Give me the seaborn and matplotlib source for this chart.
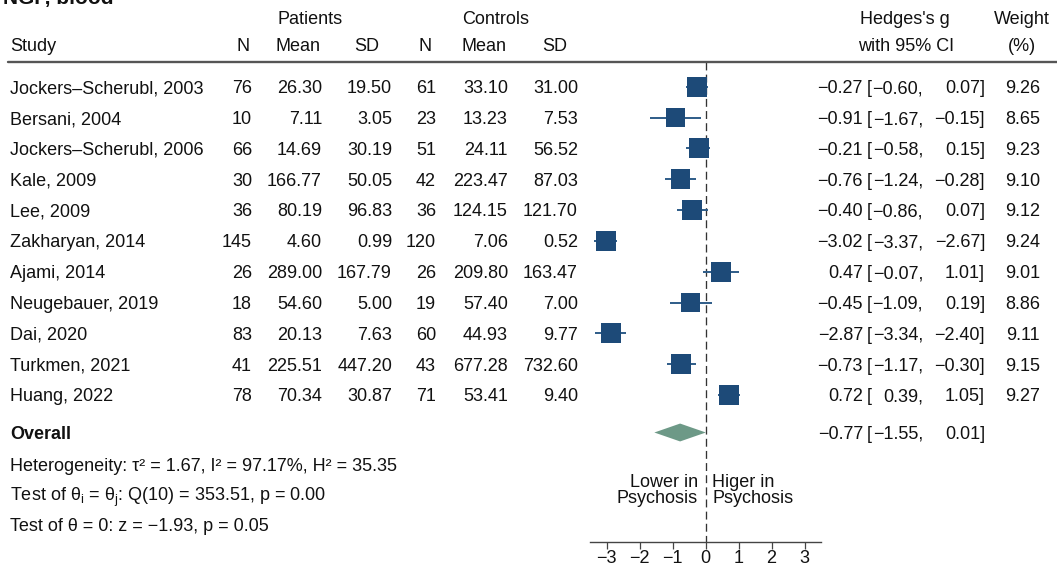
import numpy as np
import pandas as pd
import matplotlib
matplotlib.use("Agg")
import matplotlib.pyplot as plt
import matplotlib.transforms as mtransforms
import seaborn as sns

# data
studies = ["Jockers–Scherubl, 2003", "Bersani, 2004", "Jockers–Scherubl, 2006",
           "Kale, 2009", "Lee, 2009", "Zakharyan, 2014", "Ajami, 2014",
           "Neugebauer, 2019", "Dai, 2020", "Turkmen, 2021", "Huang, 2022"]
pat_n = [76, 10, 66, 30, 36, 145, 26, 18, 83, 41, 78]
pat_mean = [26.30, 7.11, 14.69, 166.77, 80.19, 4.60, 289.00, 54.60, 20.13, 225.51, 70.34]
pat_sd = [19.50, 3.05, 30.19, 50.05, 96.83, 0.99, 167.79, 5.00, 7.63, 447.20, 30.87]
ctl_n = [61, 23, 51, 42, 36, 120, 26, 19, 60, 43, 71]
ctl_mean = [33.10, 13.23, 24.11, 223.47, 124.15, 7.06, 209.80, 57.40, 44.93, 677.28, 53.41]
ctl_sd = [31.00, 7.53, 56.52, 87.03, 121.70, 0.52, 163.47, 7.00, 9.77, 732.60, 9.40]
hedges_g = [-0.27, -0.91, -0.21, -0.76, -0.40, -3.02, 0.47, -0.45, -2.87, -0.73, 0.72]
ci_lo = [-0.60, -1.67, -0.58, -1.24, -0.86, -3.37, -0.07, -1.09, -3.34, -1.17, 0.39]
ci_hi = [0.07, -0.15, 0.15, -0.28, 0.07, -2.67, 1.01, 0.19, -2.40, -0.30, 1.05]
weight = [9.26, 8.65, 9.23, 9.10, 9.12, 9.24, 9.01, 8.86, 9.11, 9.15, 9.27]
overall = [-0.77, -1.55, 0.01]
xticks = [-3, -2, -1, 0, 1, 2, 3]

het_text = "Heterogeneity: τ² = 1.67, I² = 97.17%, H² = 35.35"
q_text = r"Test of θ$_\mathrm{i}$ = θ$_\mathrm{j}$: Q(10) = 353.51, p = 0.00"
z_text = "Test of θ = 0: z = −1.93, p = 0.05"

df = pd.DataFrame({"study": studies, "g": hedges_g, "lo": ci_lo, "hi": ci_hi,
                   "w": weight, "row": np.arange(len(studies))})

sns.set_theme(style="white")
plt.rcParams['font.family'] = ['Liberation Sans', 'DejaVu Sans']
plt.rcParams['mathtext.fontset'] = 'custom'
plt.rcParams['mathtext.rm'] = 'Liberation Sans'
plt.rcParams['mathtext.it'] = 'Liberation Sans:italic'

navy = "#1d4a78"
green = "#6d9987"
FS = 13


def fmt(v):
    return f"{v:.2f}".replace("-", "\u2212")


W, H = 1057, 566
fig = plt.figure(figsize=(W / 100, H / 100), dpi=100)
axis_y = 541.7
ax = fig.add_axes([590 / W, (H - axis_y) / H, (821 - 590) / W, axis_y / H])

first_py, row_h = 86.7, 30.83


def row_of(py):
    return (py - first_py) / row_h


trans = mtransforms.blended_transform_factory(fig.transFigure, ax.transData)
base = 0.21  # baseline offset below row centre


def put(xpx, row, s, ha="right", **kw):
    ax.text(xpx / W, row + base, s, transform=trans, ha=ha, va="baseline",
            fontsize=kw.pop("fontsize", FS), color="#111111", **kw)


# CI whiskers + squares
ax.hlines(df["row"], df["lo"], df["hi"], color="#2e5c88", lw=1.4, zorder=2)
sns.scatterplot(data=df, x="g", y="row", size="w", sizes=(0, 224), size_norm=(0, 10),
                marker="s", color=navy, linewidth=0, legend=False, ax=ax, zorder=3)

# overall diamond
ov_row = row_of(432.5)
dh = 0.29
ax.fill([overall[1], overall[0], overall[2], overall[0]],
        [ov_row, ov_row - dh, ov_row, ov_row + dh], color=green, lw=0, zorder=3)

# null line
sep_row = row_of(61.5)
ax.plot([0, 0], [sep_row, row_of(axis_y)], color="#333333", lw=0.95,
        ls=(0, (6, 3.2)), zorder=1, clip_on=False)

ax.set_xlim(-3.5, 3.5)
ax.set_ylim(row_of(axis_y), row_of(0))
ax.set_xlabel("")
ax.set_ylabel("")
ax.set_yticks([])
ax.set_xticks(xticks)
ax.set_xticklabels([str(t).replace("-", "\u2212") for t in xticks])
ax.tick_params(axis="x", length=5, width=0.9, color="#444444", labelsize=FS,
               pad=1.0, labelcolor="#111111", bottom=True)
for s in ["top", "right", "left"]:
    ax.spines[s].set_visible(False)
ax.spines["bottom"].set_color("#444444")
ax.spines["bottom"].set_linewidth(1.0)
ax.patch.set_alpha(0)

# title and headers
ax.text(3 / W, row_of(4.3), "NGF, blood", transform=trans, ha="left", va="baseline",
        fontsize=15, fontweight="bold", color="#111111")
hdr1, hdr2 = row_of(18), row_of(45)
put(310, hdr1, "Patients", ha="center")
put(496, hdr1, "Controls", ha="center")
put(905, hdr1, "Hedges's g", ha="center")
put(1022, hdr1, "Weight", ha="center")
put(10, hdr2, "Study", ha="left")
for xc, lab in [(243, "N"), (298, "Mean"), (367, "SD"), (425, "N"), (484, "Mean"), (555, "SD")]:
    put(xc, hdr2, lab, ha="center")
put(906, hdr2, "with 95% CI", ha="center")
put(1022, hdr2, "(%)", ha="center")
ax.plot([8 / W, 1.0], [sep_row, sep_row], transform=trans, color="#555555", lw=1.7,
        clip_on=False)

# table rows
for i in range(len(studies)):
    put(10, i, studies[i], ha="left")
    put(252, i, str(pat_n[i]))
    put(322, i, fmt(pat_mean[i]))
    put(392, i, fmt(pat_sd[i]))
    put(436, i, str(ctl_n[i]))
    put(508, i, fmt(ctl_mean[i]))
    put(578, i, fmt(ctl_sd[i]))
    put(863, i, fmt(hedges_g[i]))
    put(867, i, "[", ha="left")
    put(923, i, fmt(ci_lo[i]) + ",")
    put(985, i, fmt(ci_hi[i]) + "]")
    put(1040, i, fmt(weight[i]))

put(10, ov_row, "Overall", ha="left", fontweight="bold")
put(863, ov_row, fmt(overall[0]))
put(867, ov_row, "[", ha="left")
put(923, ov_row, fmt(overall[1]) + ",")
put(985, ov_row, fmt(overall[2]) + "]")

put(10, row_of(465), het_text, ha="left")
put(10, row_of(495), q_text, ha="left")
put(10, row_of(525), z_text, ha="left")

ax.text(698 / W, row_of(490.5), "Lower in\nPsychosis", transform=trans, ha="right",
        va="center", multialignment="right", fontsize=FS, linespacing=0.97, color="#111111")
ax.text(712 / W, row_of(490.5), "Higer in\nPsychosis", transform=trans, ha="left",
        va="center", multialignment="left", fontsize=FS, linespacing=0.97, color="#111111")

fig.savefig("out.png", dpi=100, facecolor="white")
